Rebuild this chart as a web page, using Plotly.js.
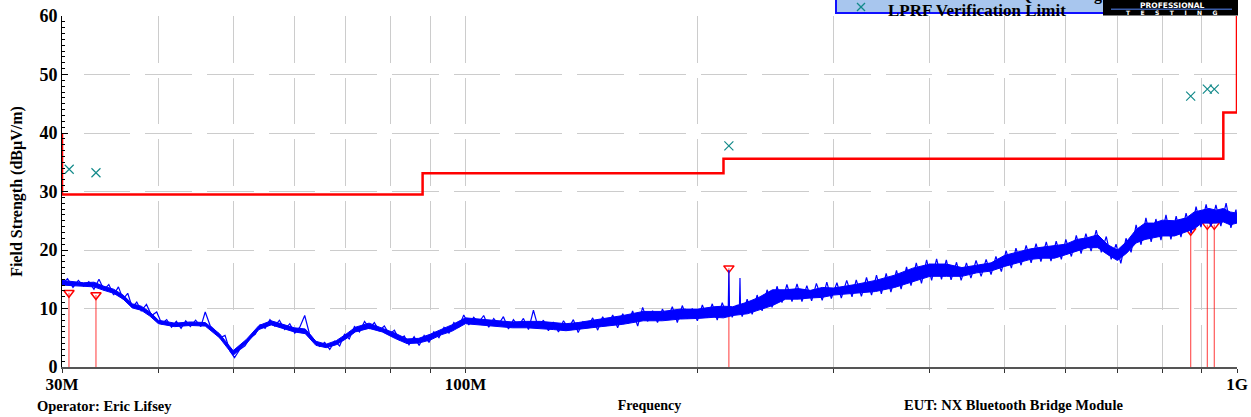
<!DOCTYPE html>
<html><head><meta charset="utf-8">
<script src="https://cdn.plot.ly/plotly-3.0.1.min.js"></script>
<style>html,body{margin:0;padding:0;background:#fff;} #chart{width:1251px;height:417px;}</style>
</head><body><div id="chart"></div>
<script>
const freqMHz = [
  30,30.5,31,31.5,32,32.5,33,33.5,34,34.5,
  35,35.5,36,36.5,37,37.5,38,38.6,39.2,39.8,
  40.4,41,41.6,42.2,42.8,43.4,44,44.7,45.4,46,
  46.7,47.4,48.1,48.8,49.5,50.2,51,51.8,52.6,53.4,
  54.2,55,55.8,56.6,57.4,58.3,59.2,60.1,61,61.9,
  62.8,63.7,64.7,65.7,66.7,67.7,68.7,69.7,70.7,71.8,
  72.9,74,75.1,76.2,77.3,78.5,79.7,80.9,82.1,83.3,
  84.5,85.8,87.1,88.4,89.7,91,92.4,93.8,95.2,96.6,
  98,99.5,101,102.5,104,105.6,107.2,108.8,110.4,112,
  113.7,115.4,117.1,118.9,120.7,122.5,124.3,126.2,128.1,130,
  132,134,136,138,140,142,144,146.2,148.4,150.6,
  152.9,155.2,157.5,159.9,162.3,164.7,167.2,169.7,172.2,174.8,
  177.4,180,182.7,185.4,188.2,191,193.9,196.8,199.8,202.8,
  205.8,208.9,212,215.2,218.4,219.1,219.5,219.9,221.7,225,
  226.5,226.9,227.3,228.4,
  231.8,235.3,238.8,242.4,246,249.7,253.4,257.2,261,265,
  269,273,277,281,285,290,294,298,303,307,
  312,317,321,326,331,336,341,346,351,356,
  362,367,373,378,384,390,396,402,408,414,
  420,426,433,439,446,452,459,466,473,480,
  487,495,502,510,517,525,533,541,549,557,
  566,574,583,592,600,610,619,628,637,647,
  657,667,677,687,697,707,718,729,740,751,
  762,774,785,797,809,821,834,846,859,872,
  885,898,912,925,939,953,968,982,997,1000];
const levelDb = [
  14.2,15.1,13.6,14.8,13.8,14.6,13.3,15.0,13.2,14.1,
  12.3,13.7,11.6,12.6,10.2,11.1,9.6,10.7,8.8,9.4,
  7.4,8.1,6.8,7.8,6.6,7.9,6.9,8.0,6.9,9.4,
  7.0,6.2,5.0,5.4,2.8,1.6,3.0,3.6,5.0,5.6,
  7.2,6.6,8.1,7.0,8.0,6.4,7.4,5.8,6.8,8.8,
  5.6,4.6,3.5,4.2,3.0,4.4,3.6,5.6,4.8,6.9,
  6.0,7.8,6.6,7.6,6.2,7.0,5.6,6.3,4.6,5.3,
  3.8,5.2,3.7,5.4,4.2,6.0,5.0,6.8,5.8,7.6,
  6.8,8.9,7.2,8.5,7.6,8.8,6.8,8.3,7.3,8.6,
  6.5,8.1,7.0,8.3,6.4,9.7,6.7,8.0,6.2,7.7,
  6.0,7.9,6.6,8.1,5.9,7.7,6.8,8.4,6.3,8.6,
  7.1,8.9,6.7,9.1,7.4,9.6,7.0,10.2,7.8,9.6,
  7.6,9.9,8.2,10.3,7.6,10.5,8.3,10.0,7.9,10.6,
  8.4,10.8,8.0,11.0,8.6,10.0,16.6,10.2,8.5,10.6,
  9.8,15.2,9.6,8.6,
  11.6,9.0,12.3,9.6,13.2,10.2,13.8,11.0,14.1,11.2,
  14.2,11.2,13.9,11.3,14.3,11.4,14.5,11.7,14.4,11.8,
  14.8,12.0,14.9,12.1,15.3,12.3,15.7,12.5,16.0,12.8,
  16.5,13.3,17.1,13.9,17.8,14.3,18.3,14.8,18.5,15.0,
  18.3,14.9,17.9,14.8,17.8,15.2,18.2,15.5,18.4,15.8,
  18.9,16.3,19.9,16.9,20.3,17.4,20.8,17.8,21.1,18.0,
  21.4,18.1,21.5,18.4,21.8,18.9,22.5,19.4,22.8,19.8,
  23.4,19.6,22.3,18.4,21.0,17.7,22.0,19.6,24.3,20.9,
  25.5,21.4,25.3,21.7,26.0,21.8,25.8,22.2,26.3,22.9,
  27.4,23.9,27.8,24.0,27.7,24.1,28.0,23.8,26.9,25.0];

// Solid core of the trace (lower / upper edge, dBuV/m)
const coreFreq = [30,31,32,33,34,35,36,37,38,39,40,42,44,46,48,50,52,54,56,58,60,62,64,66,68,70,72,75,78,81,84,87,90,93,96,
  100,105,110,115,120,125,130,135,140,145,150,160,170,180,190,200,210,216,222,232,240,
  250,260,270,280,290,300,320,340,360,380,400,420,440,460,480,500,520,540,560,580,600,620,640,660,680,700,720,740,760,780,800,830,860,880,900,920,940,960,980,1000];
const coreLow  = [14.0,13.9,13.8,13.7,13.1,12.6,11.6,10.1,9.7,8.7,7.4,6.9,7.1,7.0,5.0,2.0,4.0,6.4,7.2,6.6,6.0,5.7,3.7,3.3,3.8,4.8,6.0,6.6,6.0,4.9,4.0,4.1,4.6,5.5,6.1,
  7.4,7.2,7.0,6.7,6.7,6.6,6.4,6.2,6.4,6.6,6.9,7.3,7.9,7.9,8.2,8.3,8.5,8.4,8.8,9.1,9.7,
  10.5,11.6,11.6,11.8,11.9,12.3,12.6,12.9,13.6,14.6,15.5,15.5,15.5,16.1,16.4,17.2,17.8,18.4,18.6,18.6,19.2,19.8,20.4,20.4,19.2,18.2,19.5,21.2,21.8,22.1,22.4,22.4,23.2,23.6,24.6,24.6,24.6,24.8,24.3,24.6];
const coreHigh = [14.8,14.6,14.4,14.5,13.8,13.3,12.3,10.8,10.4,9.4,8.0,7.5,7.7,7.6,5.7,2.8,4.7,7.1,7.9,7.3,6.7,6.5,4.4,3.9,4.5,5.6,6.8,7.5,6.7,5.8,4.8,4.9,5.6,6.4,7.2,
  8.4,8.2,8.0,7.7,7.8,7.8,7.6,7.4,7.6,7.9,8.2,8.8,9.5,9.5,9.9,9.9,10.3,10.4,10.3,11.1,11.9,
  13.2,13.2,13.4,13.1,13.6,13.5,14.1,14.8,15.7,16.9,17.6,17.6,17.0,17.4,17.8,19.1,19.6,20.2,20.5,20.7,21.0,21.8,22.1,22.6,20.9,20.0,21.5,23.5,24.6,24.6,25.1,25.0,25.5,26.5,26.8,27.1,26.8,27.1,26.5,26.3];

// FCC Class B limit (10 m)
const limitFreq = [30,30,88,88,216,216,960,960,1000,1000];
const limitLevel = [40,29.5,29.5,33.1,33.1,35.6,35.6,43.5,43.5,60];

// Quasi-peak readings (x) and peak markers (triangles with stems)
const qpFreq = [30.65,33.2,219.5,870.9,915.3,934.5];
const qpLevel = [33.8,33.2,37.8,46.3,47.5,47.5];
const pkFreq = [30.63,33.2,219.5,870.9,915.3,934.5];
const pkLevel = [12.7,12.3,16.9,23.3,24.3,24.3];

const xTickVals = [30,40,50,60,70,80,90,100,200,300,400,500,600,700,800,900,1000];
const xTickText = ['30M','','','','','','','100M','','','','','','','','','1G'];
const yTickVals = [0,10,20,30,40,50,60];
const yTickText = ['0','10','20','30','40','50','60'];

const legendLabel = 'LPRF Verification Limit';
const legendUpperLabel = 'Vertical EUT PK - QP Readings';
const operatorText = 'Operator: Eric Lifsey';
const eutText = 'EUT: NX Bluetooth Bridge Module';

const stemX = [], stemY = [];
pkFreq.forEach((f, i) => { stemX.push(f, f, null); stemY.push(0, pkLevel[i], null); });

let hDash = '0px,21.5px';
for (let i = 0; i < 22; i++) hDash += ',46.7px,15px';

const serif = 'Liberation Serif, Times New Roman, serif';
const traces = [
  {x: stemX, y: stemY, mode: 'lines', line: {color: 'rgba(255,0,0,0.65)', width: 1.2}, hoverinfo: 'skip'},
  {x: pkFreq, y: pkLevel, mode: 'markers', marker: {symbol: 'triangle-down-open', size: 9, color: '#ff0000', line: {width: 1.5, color: '#ff0000'}}},
  {x: coreFreq, y: coreLow, mode: 'lines', line: {color: '#0000ff', width: 1}},
  {x: coreFreq, y: coreHigh, mode: 'lines', fill: 'tonexty', fillcolor: '#0000ff', line: {color: '#0000ff', width: 1}},
  {x: freqMHz, y: levelDb, mode: 'lines', line: {color: '#0000ff', width: 1.2}},
  {x: limitFreq, y: limitLevel, mode: 'lines', line: {color: '#ff0000', width: 2.5}},
  {x: qpFreq, y: qpLevel, mode: 'markers', marker: {symbol: 'x-thin', size: 9, line: {width: 1.2, color: '#138a8a'}}}
];

// paper helpers (plot area 62..1237 x, 16..367 y)
const px = v => (v - 62) / 1175;
const py = v => (367 - v) / 351;

const layout = {
  width: 1251, height: 417,
  margin: {l: 62, r: 14, t: 16, b: 50, pad: 0},
  paper_bgcolor: '#ffffff', plot_bgcolor: '#ffffff',
  showlegend: false,
  xaxis: {
    type: 'log', range: [Math.log10(30), Math.log10(1000)],
    tickmode: 'array', tickvals: xTickVals, ticktext: xTickText,
    ticks: 'outside', ticklen: 4, tickwidth: 1, tickcolor: '#333',
    ticklabelstandoff: -3,
    showline: true, linecolor: '#555', linewidth: 2,
    showgrid: true, gridcolor: '#cccccc', gridwidth: 1, griddash: '46.7px,15px',
    zeroline: false,
    tickfont: {family: serif, size: 17, color: '#000', weight: 'bold'},
    title: {text: 'Frequency', font: {family: serif, size: 14, color: '#000', weight: 'bold'}, standoff: 7}
  },
  yaxis: {
    range: [0, 60], tickmode: 'array', tickvals: yTickVals, ticktext: yTickText,
    ticks: 'inside', ticklen: 6, tickwidth: 1, tickcolor: '#000',
    minor: {dtick: 1, ticks: 'inside', ticklen: 3, tickcolor: '#000', showgrid: false},
    showline: true, linecolor: '#000', linewidth: 1,
    showgrid: true, gridcolor: '#cccccc', gridwidth: 1, griddash: hDash,
    zeroline: false,
    tickfont: {family: serif, size: 18, color: '#000', weight: 'bold'},
    title: {text: 'Field Strength (dBµV/m)', font: {family: serif, size: 16, color: '#000', weight: 'bold'}, standoff: 12}
  },
  shapes: [
    {type: 'rect', xref: 'paper', yref: 'paper', x0: px(836), x1: px(1110), y0: py(13), y1: py(-10), fillcolor: '#a8c6ee', line: {color: '#1010ff', width: 2}, layer: 'above'},
    {type: 'line', xref: 'paper', yref: 'paper', x0: px(857), x1: px(865), y0: py(3), y1: py(11), line: {color: '#138a8a', width: 1.2}, layer: 'above'},
    {type: 'line', xref: 'paper', yref: 'paper', x0: px(857), x1: px(865), y0: py(11), y1: py(3), line: {color: '#138a8a', width: 1.2}, layer: 'above'},
    {type: 'rect', xref: 'paper', yref: 'paper', x0: px(1103), x1: px(1238), y0: py(15.5), y1: py(-10), fillcolor: '#000000', line: {width: 0}, layer: 'above'},
    {type: 'line', xref: 'paper', yref: 'paper', x0: px(1111), x1: px(1232), y0: py(9.3), y1: py(9.3), line: {color: '#3b5ca8', width: 1.5}, layer: 'above'}
  ],
  annotations: [
    {xref: 'paper', yref: 'paper', x: px(888), y: py(-5), xanchor: 'left', yanchor: 'middle', text: legendUpperLabel, showarrow: false, font: {family: serif, size: 16, color: '#000', weight: 'bold'}},
    {xref: 'paper', yref: 'paper', x: px(886), y: py(11), xanchor: 'left', yanchor: 'middle', text: legendLabel, showarrow: false, font: {family: serif, size: 17, color: '#000', weight: 'bold'}},
    {xref: 'paper', yref: 'paper', x: px(1172), y: py(0), xanchor: 'center', yanchor: 'top', text: 'PROFESSIONAL', showarrow: false, font: {family: 'DejaVu Sans', size: 7.5, color: '#fff', weight: 'bold'}, borderpad: 0},
    {xref: 'paper', yref: 'paper', x: px(1172), y: py(12.6), xanchor: 'center', yanchor: 'middle', text: 'T&nbsp;&nbsp;&nbsp;&nbsp;&nbsp;E&nbsp;&nbsp;&nbsp;&nbsp;&nbsp;S&nbsp;&nbsp;&nbsp;&nbsp;&nbsp;T&nbsp;&nbsp;&nbsp;&nbsp;&nbsp;I&nbsp;&nbsp;&nbsp;&nbsp;&nbsp;N&nbsp;&nbsp;&nbsp;&nbsp;&nbsp;G', showarrow: false, font: {family: 'DejaVu Sans', size: 6, color: '#fff', weight: 'bold'}, borderpad: 0},
    {xref: 'paper', yref: 'paper', x: px(35), y: py(406), xanchor: 'left', yanchor: 'middle', text: operatorText, showarrow: false, font: {family: serif, size: 14.5, color: '#000', weight: 'bold'}},
    {xref: 'paper', yref: 'paper', x: px(902), y: py(405), xanchor: 'left', yanchor: 'middle', text: eutText, showarrow: false, font: {family: serif, size: 14.5, color: '#000', weight: 'bold'}}
  ]
};

Plotly.newPlot('chart', traces, layout, {displayModeBar: false, staticPlot: true});
</script>
</body></html>
